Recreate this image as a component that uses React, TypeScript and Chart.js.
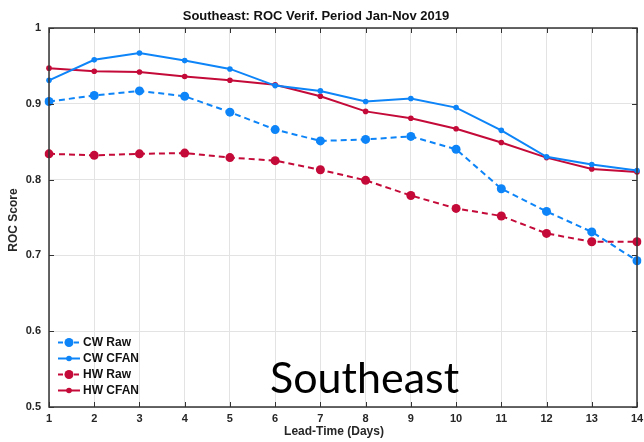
import React, { useEffect, useRef } from "react";
import { Chart, registerables } from "chart.js";

Chart.register(...registerables);

const leadDays = ["1", "2", "3", "4", "5", "6", "7", "8", "9", "10", "11", "12", "13", "14"];
const cwRaw = [0.903, 0.911, 0.917, 0.910, 0.889, 0.866, 0.851, 0.853, 0.857, 0.840, 0.788, 0.758, 0.731, 0.693];
const cwCfan = [0.931, 0.958, 0.967, 0.957, 0.946, 0.924, 0.917, 0.903, 0.907, 0.895, 0.865, 0.830, 0.820, 0.812];
const hwRaw = [0.834, 0.832, 0.834, 0.835, 0.829, 0.825, 0.813, 0.799, 0.779, 0.762, 0.752, 0.729, 0.718, 0.718];
const hwCfan = [0.947, 0.943, 0.942, 0.936, 0.931, 0.925, 0.910, 0.890, 0.881, 0.867, 0.849, 0.829, 0.814, 0.810];
const yTicks = [0.5, 0.6, 0.7, 0.8, 0.9, 1];

const BLUE = "#0d84f7";
const RED = "#c40a38";
const FONT = '"Liberation Sans", Arial, sans-serif';

const overlay = {
  id: "overlay",
  afterDraw(chart: any) {
    const { ctx, chartArea: a, scales } = chart;
    ctx.save();
    // box
    ctx.strokeStyle = "#333";
    ctx.lineWidth = 1.5;
    ctx.strokeRect(a.left, a.top, a.right - a.left, a.bottom - a.top);
    // inner ticks
    ctx.lineWidth = 1;
    ctx.strokeStyle = "#333";
    const tl = 5;
    leadDays.forEach((_, i) => {
      const x = Math.round(scales.x.getPixelForValue(i)) + 0.5;
      ctx.beginPath();
      ctx.moveTo(x, a.bottom);
      ctx.lineTo(x, a.bottom - tl);
      ctx.moveTo(x, a.top);
      ctx.lineTo(x, a.top + tl);
      ctx.stroke();
    });
    yTicks.forEach((v) => {
      const y = Math.round(scales.y.getPixelForValue(v)) + 0.5;
      ctx.beginPath();
      ctx.moveTo(a.left, y);
      ctx.lineTo(a.left + tl, y);
      ctx.moveTo(a.right, y);
      ctx.lineTo(a.right - tl, y);
      ctx.stroke();
    });
    // title
    ctx.fillStyle = "#111";
    ctx.font = `bold 13px ${FONT}`;
    ctx.textAlign = "center";
    ctx.textBaseline = "middle";
    ctx.fillText("Southeast: ROC Verif. Period Jan-Nov 2019", 316, 16);
    // x label
    ctx.font = `bold 12px ${FONT}`;
    ctx.fillStyle = "#262626";
    ctx.fillText("Lead-Time (Days)", 334, 432);
    // y label
    ctx.save();
    ctx.translate(14, 220);
    ctx.rotate(-Math.PI / 2);
    ctx.fillText("ROC Score", 0, 0);
    ctx.restore();
    // annotation
    ctx.font = `43px Lato, "Open Sans", sans-serif`;
    ctx.fillStyle = "#000";
    ctx.textAlign = "left";
    ctx.textBaseline = "alphabetic";
    ctx.fillText("Southeast", 270, 393);
    // legend
    const items = [
      { t: "CW Raw", c: BLUE, dash: [5, 3], r: 4.5 },
      { t: "CW CFAN", c: BLUE, dash: [], r: 2.8 },
      { t: "HW Raw", c: RED, dash: [5, 3], r: 4.5 },
      { t: "HW CFAN", c: RED, dash: [], r: 2.8 },
    ];
    const ys = [342.5, 358.5, 374.5, 390.5];
    items.forEach((it, i) => {
      const y = ys[i];
      ctx.strokeStyle = it.c;
      ctx.lineWidth = 2;
      ctx.setLineDash(it.dash);
      ctx.beginPath();
      ctx.moveTo(58, y);
      ctx.lineTo(80, y);
      ctx.stroke();
      ctx.setLineDash([]);
      ctx.fillStyle = it.c;
      ctx.beginPath();
      ctx.arc(69, y, it.r, 0, Math.PI * 2);
      ctx.fill();
      ctx.fillStyle = "#111";
      ctx.font = `bold 12px ${FONT}`;
      ctx.textBaseline = "middle";
      ctx.fillText(it.t, 83, y + 0.5);
    });
    ctx.restore();
  },
};

export default function App() {
  const ref = useRef<HTMLCanvasElement | null>(null);
  useEffect(() => {
    document.body.style.margin = "0";
    const canvas = ref.current!;
    const ds = (label: string, data: number[], color: string, dashed: boolean) => ({
      label,
      data,
      borderColor: color,
      backgroundColor: color,
      borderWidth: 2,
      borderDash: dashed ? [6, 4] : [],
      pointRadius: dashed ? 4.5 : 2.8,
      pointBorderWidth: 0,
      pointBackgroundColor: color,
      tension: 0,
      fill: false,
    });
    const chart = new Chart(canvas, {
      type: "line",
      data: {
        labels: leadDays,
        datasets: [
          ds("CW Raw", cwRaw, BLUE, true),
          ds("CW CFAN", cwCfan, BLUE, false),
          ds("HW Raw", hwRaw, RED, true),
          ds("HW CFAN", hwCfan, RED, false),
        ],
      },
      options: {
        responsive: false,
        animation: false,
        layout: { padding: { top: 28, right: 7, left: 0, bottom: 0 } },
        plugins: { legend: { display: false }, title: { display: false }, tooltip: { enabled: false } },
        scales: {
          x: {
            type: "category",
            offset: false,
            grid: { color: "#e3e3e3", lineWidth: 1, drawTicks: false },
            border: { display: false },
            ticks: {
              color: "#262626",
              font: { family: FONT, size: 11, weight: "bold" },
              padding: 5,
              maxRotation: 0,
              autoSkip: false,
            },
            afterFit(s: any) {
              s.height = 35;
              s.paddingRight = 0;
              s.paddingLeft = 0;
            },
          },
          y: {
            min: 0.5,
            max: 1,
            grid: { color: "#e3e3e3", lineWidth: 1, drawTicks: false },
            border: { display: false },
            ticks: {
              stepSize: 0.1,
              color: "#262626",
              font: { family: FONT, size: 11, weight: "bold" },
              padding: 8,
              callback: (v: any) => (Math.abs(v - 1) < 1e-9 ? "1" : Number(v).toFixed(1)),
            },
            afterFit(s: any) {
              s.width = 49;
            },
          },
        },
      },
      plugins: [overlay],
    });
    return () => chart.destroy();
  }, []);
  return (
    <div style={{ width: 644, height: 442, background: "#fff" }}>
      <canvas ref={ref} width={644} height={442} style={{ display: "block" }} />
    </div>
  );
}
